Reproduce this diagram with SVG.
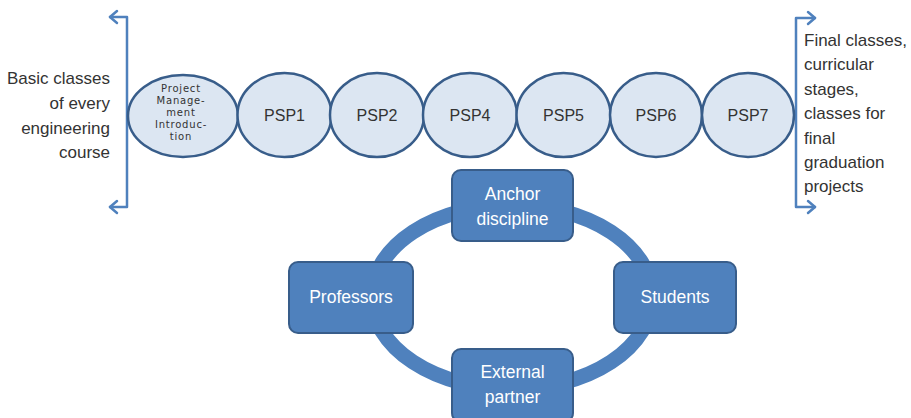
<svg xmlns="http://www.w3.org/2000/svg" width="911" height="418" viewBox="0 0 911 418">
<style>
.br{fill:none;stroke:#4F81BD;stroke-width:2.5;stroke-linecap:round;stroke-linejoin:round}
.el{fill:#DCE6F2;stroke:#385D8A;stroke-width:2.5}
.bx{fill:#4F81BD;stroke:#385D8A;stroke-width:2}
.t{font-family:"Liberation Sans",Arial,sans-serif;font-size:17px;fill:#333333}
.p{font-family:"Liberation Sans",Arial,sans-serif;font-size:16px;fill:#333333;text-anchor:middle}
.w{font-family:"Liberation Sans",Arial,sans-serif;font-size:17.5px;fill:#ffffff;text-anchor:middle}
.s{font-family:"DejaVu Sans",Verdana,sans-serif;font-size:10px;fill:#333333;text-anchor:middle;letter-spacing:0.8px}
</style>
<rect width="911" height="418" fill="#ffffff"/>
<g id="connectors">
<ellipse cx="512" cy="297" rx="140" ry="92" fill="none" stroke="#4F81BD" stroke-width="15"/>
</g>
<g id="left-bracket">
<path class="br" d="M110,17 H127 V207 H110"/>
<path class="br" d="M117,11 L110,17 L117,23"/>
<path class="br" d="M117,201 L110,207 L117,213"/>
<text class="t" text-anchor="end" x="110" y="84">Basic classes</text>
<text class="t" text-anchor="end" x="110" y="109">of  every</text>
<text class="t" text-anchor="end" x="110" y="134">engineering</text>
<text class="t" text-anchor="end" x="110" y="158">course</text>
</g>
<g id="right-bracket">
<path class="br" d="M815,18 H796 V207 H815"/>
<path class="br" d="M808,12 L815,18 L808,24"/>
<path class="br" d="M808,201 L815,207 L808,213"/>
<text class="t" x="804" y="46">Final classes,</text>
<text class="t" x="804" y="70">curricular</text>
<text class="t" x="804" y="95">stages,</text>
<text class="t" x="804" y="119">classes for</text>
<text class="t" x="804" y="144">final</text>
<text class="t" x="804" y="168">graduation</text>
<text class="t" x="804" y="192">projects</text>
</g>
<g id="pm-intro">
<ellipse class="el" cx="183" cy="116" rx="55" ry="41"/>
<text class="s" x="181" y="92">Project</text>
<text class="s" x="181" y="104">Manage-</text>
<text class="s" x="181" y="116">ment</text>
<text class="s" x="181" y="128">Introduc-</text>
<text class="s" x="181" y="140">tion</text>
</g>
<g id="psp1"><ellipse class="el" cx="284.5" cy="115" rx="47" ry="42"/><text class="p" x="284.5" y="121">PSP1</text></g>
<g id="psp2"><ellipse class="el" cx="377" cy="115" rx="47" ry="42"/><text class="p" x="377" y="121">PSP2</text></g>
<g id="psp4"><ellipse class="el" cx="470" cy="115" rx="47" ry="42"/><text class="p" x="470" y="121">PSP4</text></g>
<g id="psp5"><ellipse class="el" cx="563.5" cy="115" rx="47" ry="42"/><text class="p" x="563.5" y="121">PSP5</text></g>
<g id="psp6"><ellipse class="el" cx="656" cy="115" rx="46" ry="42"/><text class="p" x="656" y="121">PSP6</text></g>
<g id="psp7"><ellipse class="el" cx="748" cy="115" rx="46" ry="42"/><text class="p" x="748" y="121">PSP7</text></g>
<g id="anchor">
<rect class="bx" x="452" y="170" width="121" height="71" rx="9"/>
<text class="w" x="512.5" y="200">Anchor</text>
<text class="w" x="512.5" y="225">discipline</text>
</g>
<g id="professors">
<rect class="bx" x="289" y="262" width="124" height="71" rx="9"/>
<text class="w" x="351" y="303">Professors</text>
</g>
<g id="students">
<rect class="bx" x="614" y="262" width="122" height="71" rx="9"/>
<text class="w" x="675" y="303">Students</text>
</g>
<g id="external">
<rect class="bx" x="452" y="349" width="121" height="73" rx="9"/>
<text class="w" x="512.5" y="378">External</text>
<text class="w" x="512.5" y="403">partner</text>
</g>
</svg>
